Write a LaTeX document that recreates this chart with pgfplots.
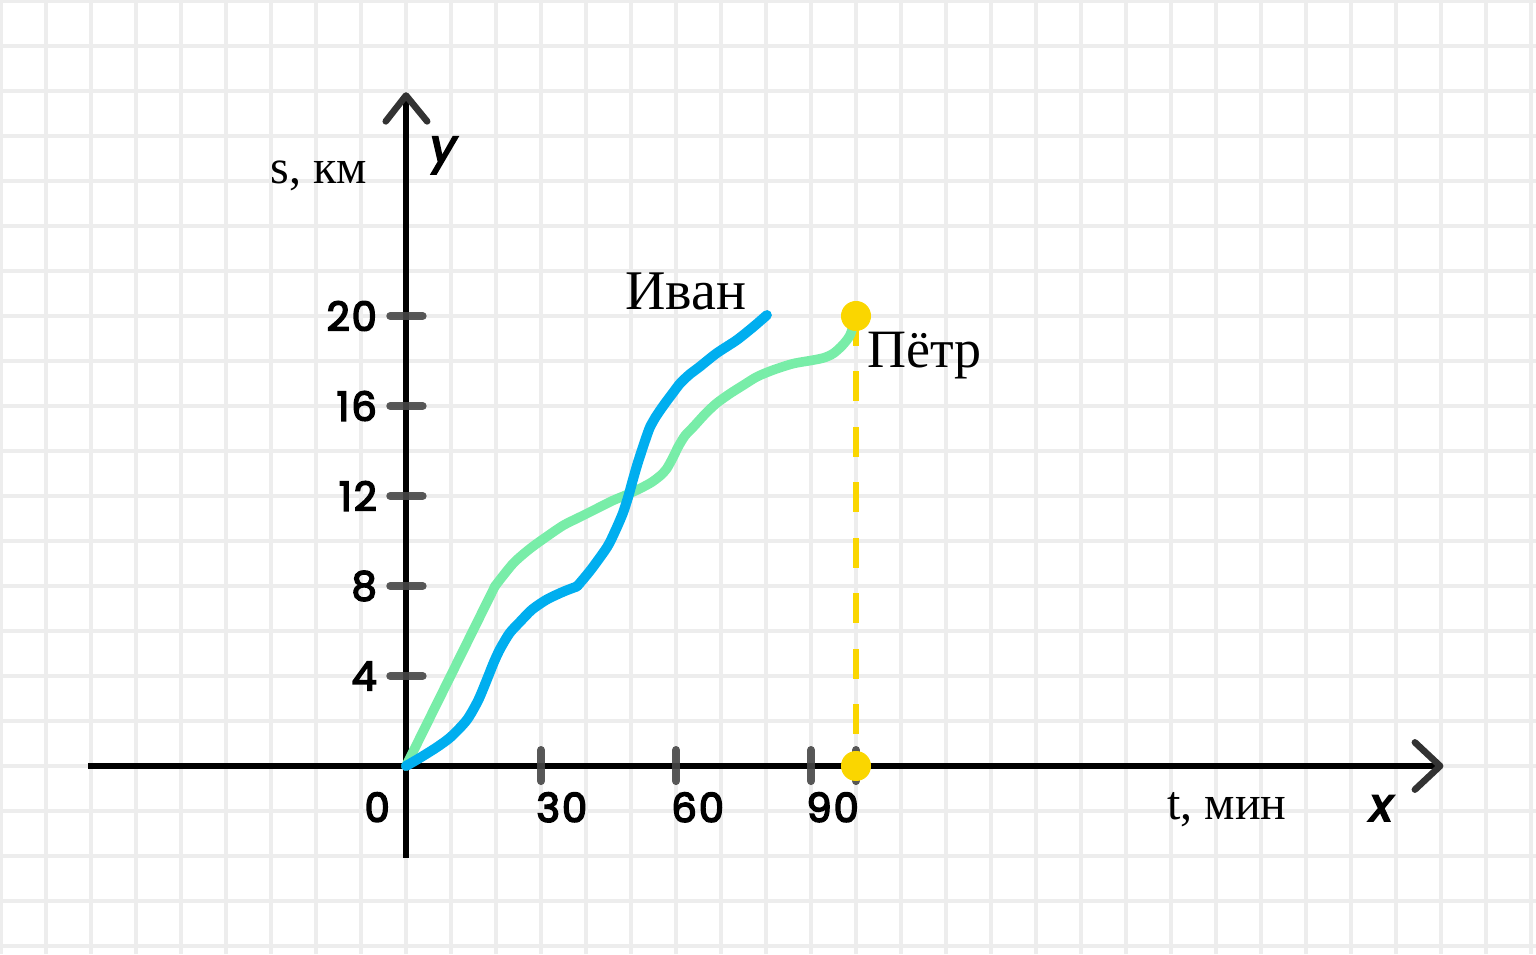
\documentclass[border=0pt]{standalone}
\usepackage{fontspec}
\setmainfont{Liberation Serif}
\newfontfamily\tickfont{Poppins}[LetterSpace=5]
\newfontfamily\axfont{Poppins}
\newcommand\heavy[1]{\special{pdf:literal direct 2 Tr #1 w}}
\usepackage{pgfplots}
\pgfplotsset{compat=1.18}
\definecolor{ivanblue}{HTML}{00AEEF}
\definecolor{petrgreen}{HTML}{78EDA8}
\definecolor{dotyellow}{HTML}{FAD600}
\definecolor{gridgray}{HTML}{EDEDED}
\definecolor{tickgray}{HTML}{464646}
\definecolor{arrowgray}{HTML}{333333}
\tikzset{tl/.style={inner sep=0, font=\tickfont\fontsize{20}{24}\selectfont}}
\begin{document}
\begin{tikzpicture}
\begin{axis}[name=ax, scale only axis, width=768pt, height=477pt,
  xmin=-90.222, xmax=251.111, ymin=-8.356, ymax=34.044,
  axis line style={draw=none},
  xtick={-90,-80,...,250}, ytick={-8,-6,...,34},
  xticklabels={}, yticklabels={}, major tick length=0pt,
  grid=major, major grid style={draw=gridgray, line width=2.2pt},
  clip=false]
% axes
\draw[line width=2.8pt, black] (axis cs:-70.7,0) -- (axis cs:229.5,0);
\draw[line width=2.8pt, black] (axis cs:0,-4.1) -- (axis cs:0,29.7);
\draw[line width=3.3pt, arrowgray, line cap=round, line join=round] (axis cs:224.2,1.05) -- (axis cs:229.8,0) -- (axis cs:224.2,-1.05);
\draw[line width=3.3pt, arrowgray, line cap=round, line join=round] (axis cs:-4.5,28.65) -- (axis cs:0,29.8) -- (axis cs:4.7,28.65);
% y ticks
\draw[line width=4pt, tickgray, opacity=0.9, line cap=round] (axis cs:-3.5,4) -- (axis cs:3.7,4);
\draw[line width=4pt, tickgray, opacity=0.9, line cap=round] (axis cs:-3.5,8) -- (axis cs:3.7,8);
\draw[line width=4pt, tickgray, opacity=0.9, line cap=round] (axis cs:-3.5,12) -- (axis cs:3.7,12);
\draw[line width=4pt, tickgray, opacity=0.9, line cap=round] (axis cs:-3.5,16) -- (axis cs:3.7,16);
\draw[line width=4pt, tickgray, opacity=0.9, line cap=round] (axis cs:-3.5,20) -- (axis cs:3.7,20);
% x ticks
\draw[line width=4pt, tickgray, opacity=0.9, line cap=round] (axis cs:30,0.71) -- (axis cs:30,-0.67);
\draw[line width=4pt, tickgray, opacity=0.9, line cap=round] (axis cs:60,0.71) -- (axis cs:60,-0.67);
\draw[line width=4pt, tickgray, opacity=0.9, line cap=round] (axis cs:90,0.71) -- (axis cs:90,-0.67);
% tick labels
\node[tl, anchor=east] at (axis cs:-6.4,20) {\heavy{0.8}20};
\node[tl, anchor=east] at (axis cs:-6.4,16) {\heavy{0.8}16};
\node[tl, anchor=east] at (axis cs:-6.4,12) {\heavy{0.8}12};
\node[tl, anchor=east] at (axis cs:-6.4,8) {\heavy{0.8}8};
\node[tl, anchor=east] at (axis cs:-6.4,4) {\heavy{0.8}4};
\node[tl, anchor=north] at (axis cs:-6.4,-1.16) {\heavy{0.8}0};
\node[tl, anchor=north west] at (axis cs:28.9,-1.16) {\heavy{0.8}30};
\node[tl, anchor=north west] at (axis cs:58.9,-1.16) {\heavy{0.8}60};
\node[tl, anchor=north west] at (axis cs:88.9,-1.16) {\heavy{0.8}90};
% axis titles
\node[anchor=base west, inner sep=0, font=\fontsize{24}{28}\selectfont] at (axis cs:-30.2,25.9) {s, км};
\node[anchor=base west, inner sep=0, font=\axfont\itshape\fontsize{23}{27}\selectfont] at (axis cs:5.3,26.84) {\heavy{1}y};
\node[anchor=base west, inner sep=0, font=\fontsize{24}{28}\selectfont] at (axis cs:169.1,-2.4) {t, мин};
\node[anchor=base west, inner sep=0, font=\axfont\itshape\fontsize{23}{27}\selectfont] at (axis cs:214.2,-2.44) {\heavy{1}x};
% series
\addplot[dotyellow, line width=3.3pt, dash pattern=on 15pt off 12.75pt, forget plot] coordinates {(100,20) (100,0)};
% Пётр
\addplot[petrgreen, line width=4.8pt, line cap=round] coordinates {(0,0) (19.8,8)};
\addplot[petrgreen, line width=4.8pt, line join=round, line cap=round, smooth, tension=0.45] coordinates {
(19.8,8) (23.8,9.0) (27.5,9.65) (31.3,10.2) (35,10.7) (38.7,11.07) (42.5,11.45) (46,11.8) (49,12.05) (52,12.33) (54.5,12.6) (56.5,12.9) (57.9,13.2) (59.3,13.7) (60.5,14.19) (62,14.68) (63.9,15.08) (66.5,15.65) (69,16.12) (72,16.55) (75,16.93) (78,17.3) (81.6,17.6) (86,17.88) (90.5,18.04) (93,18.15) (95,18.34) (97,18.7) (98.7,19.16) (100,20)};
% Иван
\addplot[ivanblue, line width=5pt, line join=round, line cap=round, smooth, tension=0.45] coordinates {
(0,0) (3,0.35) (6.9,0.84) (10,1.3) (13.5,2.04) (16,2.9) (17.9,3.8) (19.5,4.6) (20.9,5.2) (23,5.9) (25.3,6.4) (28,6.95) (31.3,7.4) (35,7.75) (38,7.98)};
\addplot[ivanblue, line width=5pt, line join=round, line cap=round, smooth, tension=0.45] coordinates {
(38,7.98) (41,8.7) (44.7,9.73) (46.5,10.45) (48.2,11.24) (49.4,11.98) (50.4,12.71) (51.4,13.4) (52.2,13.9) (53.2,14.5) (54.2,15.05) (55.6,15.55) (57.5,16.1) (59,16.5) (60.9,17.0) (63,17.4) (65.3,17.75) (69,18.34) (73.5,18.93) (77.2,19.52) (80.2,20.04)};
\addplot[dotyellow, only marks, mark=*, mark size=7.3pt] coordinates {(100,20) (100,0)};
\draw[line width=4pt, tickgray, opacity=0.9, line cap=round] (axis cs:100,0.71) -- (axis cs:100,-0.67);
% curve labels
\node[anchor=base west, inner sep=0, font=\fontsize{28}{32}\selectfont] at (axis cs:48.7,20.27) {Иван};
\node[anchor=base west, inner sep=0, font=\fontsize{27}{31}\selectfont] at (axis cs:102.4,17.73) {Пётр};
\end{axis}
\pgfresetboundingbox
\path[use as bounding box] (ax.south west) rectangle (ax.north east);
\end{tikzpicture}
\end{document}
